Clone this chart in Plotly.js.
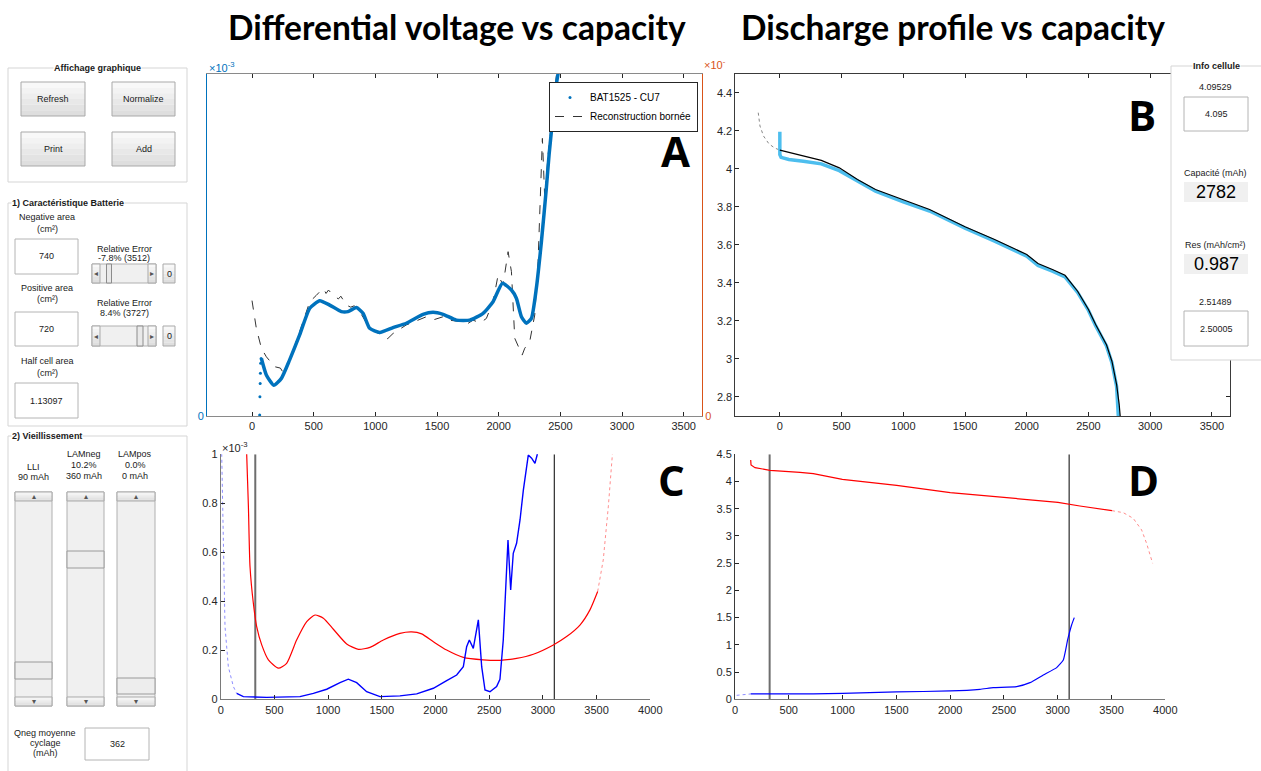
<!DOCTYPE html>
<html>
<head>
<meta charset="utf-8">
<script src="https://cdn.plot.ly/plotly-3.0.1.min.js"></script>
<style>html,body{margin:0;padding:0;background:#fff;}#chart{width:1261px;height:771px;}</style>
</head>
<body>
<div id="chart"></div>
<script>
// ---------------- DATA ----------------
// Panel A : differential voltage (x1e-3) vs capacity (mAh)
const aDotsX = [62, 64, 66, 68, 70, 74];
const aDotsY = [0.003, 0.056, 0.095, 0.125, 0.154, 0.168];
const aBlueX = [76, 116, 176, 238, 305, 386, 468, 549, 630, 724, 778, 846, 900, 954, 1035, 1143, 1251, 1386, 1468, 1549, 1657, 1765, 1873, 1954, 2030, 2103, 2143, 2184, 2224, 2265, 2305, 2346, 2386, 2408, 2435, 2462, 2481, 2500];
const aBlueY = [0.168, 0.12, 0.09, 0.11, 0.164, 0.237, 0.315, 0.337, 0.324, 0.305, 0.305, 0.317, 0.3, 0.256, 0.244, 0.258, 0.271, 0.297, 0.303, 0.297, 0.28, 0.28, 0.3, 0.334, 0.388, 0.368, 0.344, 0.29, 0.271, 0.285, 0.373, 0.509, 0.665, 0.762, 0.86, 0.957, 1.0, 1.05];
const aRecX = [0, 35, 76, 116, 184, 230, 251, 270, 305, 386, 468, 520, 540, 562, 580, 600, 620, 657, 700, 720, 765, 800, 830, 873, 954, 1062, 1100, 1143, 1251, 1414, 1480, 1549, 1600, 1684, 1740, 1792, 1850, 1900, 1954, 1995, 2035, 2076, 2103, 2130, 2170, 2190, 2211, 2251, 2292, 2319, 2354, 2373, 2400, 2440, 2468];
const aRecY = [0.337, 0.256, 0.198, 0.173, 0.144, 0.14, 0.128, 0.142, 0.164, 0.246, 0.334, 0.352, 0.36, 0.368, 0.372, 0.358, 0.368, 0.353, 0.342, 0.35, 0.324, 0.318, 0.322, 0.305, 0.256, 0.232, 0.226, 0.241, 0.266, 0.29, 0.282, 0.29, 0.28, 0.276, 0.268, 0.28, 0.272, 0.285, 0.334, 0.412, 0.383, 0.48, 0.422, 0.227, 0.193, 0.178, 0.198, 0.217, 0.295, 0.451, 0.811, 0.636, 0.762, 0.889, 0.996];
const aTicks = [0, 500, 1000, 1500, 2000, 2500, 3000, 3500];

// Panel B : discharge voltage (V) vs capacity (mAh)
const bExtX = [-175, -161, -132, -88, -44, 0];
const bExtY = [4.295, 4.225, 4.172, 4.131, 4.11, 4.098];
const bMeasX = [0, 0, 10, 73, 190, 336, 482, 629, 775, 1000, 1213, 1500, 1740, 2000, 2091, 2208, 2310, 2412, 2500, 2558, 2646, 2690, 2728, 2742];
const bMeasY = [4.195, 4.075, 4.06, 4.049, 4.04, 4.026, 3.99, 3.934, 3.882, 3.826, 3.778, 3.688, 3.62, 3.54, 3.492, 3.462, 3.432, 3.35, 3.255, 3.175, 3.068, 2.98, 2.855, 2.70];
const bFitX = [0, 190, 336, 482, 629, 775, 1000, 1213, 1500, 1740, 2000, 2091, 2208, 2310, 2412, 2500, 2558, 2646, 2690, 2728, 2749, 2757];
const bFitY = [4.098, 4.067, 4.044, 4.005, 3.944, 3.891, 3.835, 3.786, 3.695, 3.628, 3.549, 3.502, 3.47, 3.44, 3.356, 3.26, 3.181, 3.075, 2.988, 2.865, 2.76, 2.70];
const bYTicks = [2.8, 3, 3.2, 3.4, 3.6, 3.8, 4, 4.2, 4.4];

// Panel C : half-cell differential voltage (x1e-3)
const cRedX = [236, 242, 258, 273, 304, 335, 382, 444, 537, 614, 707, 801, 878, 956, 1049, 1173, 1282, 1390, 1514, 1669, 1778, 1871, 1980, 2104, 2259, 2445, 2600, 2755, 2911, 3097, 3221, 3345, 3438, 3510];
const cRedY = [1.1, 1.0, 0.786, 0.541, 0.392, 0.297, 0.222, 0.161, 0.127, 0.147, 0.242, 0.317, 0.344, 0.331, 0.286, 0.226, 0.204, 0.212, 0.242, 0.269, 0.275, 0.267, 0.235, 0.201, 0.171, 0.161, 0.159, 0.167, 0.184, 0.222, 0.256, 0.303, 0.365, 0.44];
const cRedDotX = [3510, 3562, 3609, 3655, 3665];
const cRedDotY = [0.44, 0.569, 0.786, 1.0, 1.1];
const cBlueDotX = [5, 9, 19, 40, 71, 118, 149];
const cBlueDotY = [1.1, 1.0, 0.65, 0.297, 0.133, 0.052, 0.024];
const cBlueX = [149, 211, 428, 738, 863, 987, 1111, 1188, 1266, 1359, 1483, 1669, 1825, 1980, 2104, 2197, 2259, 2290, 2315, 2352, 2399, 2430, 2461, 2507, 2569, 2600, 2631, 2656, 2675, 2700, 2724, 2755, 2787, 2818, 2864, 2895, 2926, 2948, 2960];
const cBlueY = [0.024, 0.011, 0.008, 0.011, 0.024, 0.041, 0.068, 0.082, 0.068, 0.031, 0.011, 0.014, 0.022, 0.045, 0.076, 0.099, 0.133, 0.215, 0.242, 0.208, 0.324, 0.133, 0.038, 0.031, 0.052, 0.082, 0.242, 0.514, 0.65, 0.446, 0.596, 0.637, 0.732, 0.854, 0.997, 0.984, 0.963, 1.0, 1.05];
const cYTicks = [0, 0.2, 0.4, 0.6, 0.8, 1];

// Panel D : half-cell potentials (V)
const dRedX = [146, 149, 186, 325, 604, 728, 998, 1503, 2001, 2503, 3002, 3206, 3504];
const dRedY = [4.395, 4.304, 4.255, 4.206, 4.169, 4.145, 4.041, 3.93, 3.796, 3.71, 3.618, 3.551, 3.465];
const dRedDotX = [3504, 3609, 3702, 3780, 3826, 3882];
const dRedDotY = [3.465, 3.428, 3.324, 3.11, 2.865, 2.498];
const dBlueDotX = [15, 146];
const dBlueDotY = [0.073, 0.098];
const dBlueX = [146, 728, 998, 1503, 2001, 2277, 2401, 2618, 2742, 2866, 2990, 3052, 3092, 3129, 3154];
const dBlueY = [0.098, 0.098, 0.11, 0.135, 0.153, 0.184, 0.214, 0.233, 0.306, 0.447, 0.582, 0.722, 1.09, 1.365, 1.5];
const cdXTicks = [0, 500, 1000, 1500, 2000, 2500, 3000, 3500, 4000];
const dYTicks = [0, 0.5, 1, 1.5, 2, 2.5, 3, 3.5, 4, 4.5];

// cursor positions (mAh)
const cursorLow = 322;
const cursorHigh = 3106;

// ---------------- HELPERS ----------------
const W = 1261, H = 771;
const px = x => x / W;
const py = y => 1 - y / H;
const TF = {family: 'Liberation Sans, Arial, sans-serif', size: 11, color: '#262626'};
const GF = 'Liberation Sans, Arial, sans-serif';

// ---------------- TRACES ----------------
const traces = [
  // A
  {x: aRecX, y: aRecY, xaxis: 'x', yaxis: 'y', mode: 'lines', name: 'Reconstruction bornée', legendrank: 2,
   line: {color: '#333333', width: 1, dash: 'dash'}},
  {x: aBlueX, y: aBlueY, xaxis: 'x', yaxis: 'y', mode: 'lines', showlegend: false,
   line: {color: '#0072BD', width: 3.5, shape: 'spline', smoothing: 0.5}},
  {x: aDotsX, y: aDotsY, xaxis: 'x', yaxis: 'y', mode: 'markers', name: 'BAT1525 - CU7', legendrank: 1,
   marker: {color: '#0072BD', size: 3}},
  // B
  {x: bExtX, y: bExtY, xaxis: 'x2', yaxis: 'y3', mode: 'lines', showlegend: false,
   line: {color: '#888888', width: 1, dash: 'dot'}},
  {x: bMeasX, y: bMeasY, xaxis: 'x2', yaxis: 'y3', mode: 'lines', showlegend: false,
   line: {color: '#4DBEEE', width: 3.5}},
  {x: bFitX, y: bFitY, xaxis: 'x2', yaxis: 'y3', mode: 'lines', showlegend: false,
   line: {color: '#000000', width: 1.2}},
  // C
  {x: [cursorLow, cursorLow], y: [0, 1], xaxis: 'x3', yaxis: 'y4', mode: 'lines', showlegend: false,
   line: {color: '#6e6e6e', width: 2}},
  {x: [cursorHigh, cursorHigh], y: [0, 1], xaxis: 'x3', yaxis: 'y4', mode: 'lines', showlegend: false,
   line: {color: '#000000', width: 1}},
  {x: cRedX, y: cRedY, xaxis: 'x3', yaxis: 'y4', mode: 'lines', showlegend: false,
   line: {color: '#ff0000', width: 1.2, shape: 'spline', smoothing: 0.6}},
  {x: cRedDotX, y: cRedDotY, xaxis: 'x3', yaxis: 'y4', mode: 'lines', showlegend: false,
   line: {color: 'rgba(255,0,0,0.45)', width: 1, dash: 'dot'}},
  {x: cBlueDotX, y: cBlueDotY, xaxis: 'x3', yaxis: 'y4', mode: 'lines', showlegend: false,
   line: {color: 'rgba(0,0,255,0.45)', width: 1, dash: 'dot'}},
  {x: cBlueX, y: cBlueY, xaxis: 'x3', yaxis: 'y4', mode: 'lines', showlegend: false,
   line: {color: '#0000ff', width: 1.4}},
  // D
  {x: [cursorLow, cursorLow], y: [0, 4.5], xaxis: 'x4', yaxis: 'y5', mode: 'lines', showlegend: false,
   line: {color: '#6e6e6e', width: 2}},
  {x: [cursorHigh, cursorHigh], y: [0, 4.5], xaxis: 'x4', yaxis: 'y5', mode: 'lines', showlegend: false,
   line: {color: '#000000', width: 1}},
  {x: dRedX, y: dRedY, xaxis: 'x4', yaxis: 'y5', mode: 'lines', showlegend: false,
   line: {color: '#ff0000', width: 1.2}},
  {x: dRedDotX, y: dRedDotY, xaxis: 'x4', yaxis: 'y5', mode: 'lines', showlegend: false,
   line: {color: 'rgba(255,0,0,0.45)', width: 1, dash: 'dot'}},
  {x: dBlueDotX, y: dBlueDotY, xaxis: 'x4', yaxis: 'y5', mode: 'lines', showlegend: false,
   line: {color: 'rgba(0,0,255,0.45)', width: 1, dash: 'dot'}},
  {x: dBlueX, y: dBlueY, xaxis: 'x4', yaxis: 'y5', mode: 'lines', showlegend: false,
   line: {color: '#0000ff', width: 1.2, shape: 'spline', smoothing: 0.4}}
];

// ---------------- GUI SHAPES & TEXT ----------------
const shapes = [];
const ann = [];
function rect(x0, y0, x1, y1, fill, line, lw) {
  shapes.push({type: 'rect', xref: 'paper', yref: 'paper', layer: 'above',
    x0: px(x0), x1: px(x1), y0: py(y1), y1: py(y0),
    fillcolor: fill || 'rgba(0,0,0,0)', line: {color: line || 'rgba(0,0,0,0)', width: lw === undefined ? 1 : lw}});
}
function txt(x, y, t, o) {
  o = o || {};
  ann.push({xref: 'paper', yref: 'paper', x: px(x), y: py(y), text: t, showarrow: false,
    xanchor: o.xa || 'center', yanchor: 'middle',
    font: {family: o.family || GF, size: o.size || 9, color: o.color || '#1a1a1a', weight: o.weight || 400},
    bgcolor: o.bg || 'rgba(0,0,0,0)', borderpad: 0});
}
function button(x0, y0, x1, y1, label) {
  const n = 6, h = (y1 - y0) / n;
  const cols = ['#f8f8f8', '#f3f3f3', '#eeeeee', '#e8e8e8', '#e3e3e3', '#dedede'];
  for (let i = 0; i < n; i++) rect(x0, y0 + i * h, x1, y0 + (i + 1) * h, cols[i], null, 0);
  rect(x0, y0, x1, y1, null, '#a9a9a9', 1);
  if (label) txt((x0 + x1) / 2, (y0 + y1) / 2, label);
}
function editBox(x0, y0, x1, y1, label, size) {
  rect(x0, y0, x1, y1, '#ffffff', '#b4b4b4', 1);
  txt((x0 + x1) / 2, (y0 + y1) / 2, label, {size: size || 9});
}
function hSlider(x0, y0, x1, y1, t0, t1) {
  rect(x0, y0, x1, y1, '#f0f0f0', '#b0b0b0', 1);
  button(x0, y0, x0 + 8, y1, null);
  button(x1 - 8, y0, x1, y1, null);
  txt(x0 + 4, (y0 + y1) / 2, '◂', {family: 'DejaVu Sans', size: 8, color: '#555'});
  txt(x1 - 4, (y0 + y1) / 2, '▸', {family: 'DejaVu Sans', size: 8, color: '#555'});
  rect(t0, y0, t1, y1, '#e9e9e9', '#8c8c8c', 1);
}
function vSlider(x0, y0, x1, y1, t0, t1) {
  rect(x0, y0, x1, y1, '#f0f0f0', '#b0b0b0', 1);
  button(x0, y0, x1, y0 + 9, null);
  button(x0, y1 - 9, x1, y1, null);
  txt((x0 + x1) / 2, y0 + 4.5, '▴', {family: 'DejaVu Sans', size: 8, color: '#555'});
  txt((x0 + x1) / 2, y1 - 4.5, '▾', {family: 'DejaVu Sans', size: 8, color: '#555'});
  rect(x0, t0, x1, t1, '#ededed', '#9a9a9a', 1);
}

// Group 1: Affichage graphique
rect(8, 68, 187, 182, null, '#d5d5d5', 1);
txt(97, 68, 'Affichage graphique', {weight: 700, bg: '#ffffff'});
button(21, 82, 85, 116, 'Refresh');
button(112, 82, 175, 116, 'Normalize');
button(21, 132, 85, 166, 'Print');
button(112, 132, 175, 166, 'Add');

// Group 2: Caractéristique Batterie
rect(8, 203, 187, 426, null, '#d5d5d5', 1);
txt(11, 203, '1) Caractéristique Batterie', {xa: 'left', weight: 700, bg: '#ffffff'});
txt(47, 217, 'Negative area');
txt(47, 229, '(cm²)');
editBox(15, 239, 78, 274, '740');
txt(124, 249, 'Relative Error');
txt(124, 258, '-7.8% (3512)');
hSlider(92, 264, 156, 283, 106.5, 111.5);
button(163, 264, 175, 283, '0');
txt(47, 288, 'Positive area');
txt(47, 299, '(cm²)');
editBox(15, 312, 78, 346, '720');
txt(124, 303, 'Relative Error');
txt(124, 313, '8.4% (3727)');
hSlider(92, 326, 156, 346, 137, 143);
button(163, 326, 175, 346, '0');
txt(47, 361, 'Half cell area');
txt(47, 373, '(cm²)');
editBox(15, 383, 78, 418, '1.13097');

// Group 3: Vieillissement
rect(8, 436, 187, 780, null, '#d5d5d5', 1);
txt(11, 436, '2) Vieillissement', {xa: 'left', weight: 700, bg: '#ffffff'});
txt(33, 467, 'LLI');
txt(33, 477, '90 mAh');
txt(84, 454, 'LAMneg');
txt(84, 465, '10.2%');
txt(84, 476, '360 mAh');
txt(135, 454, 'LAMpos');
txt(135, 465, '0.0%');
txt(135, 476, '0 mAh');
vSlider(15, 492, 52, 706, 662, 679);
vSlider(67, 492, 104, 706, 551, 568);
vSlider(117, 492, 155, 706, 678, 694);
txt(45, 733, 'Qneg moyenne');
txt(45, 743, 'cyclage');
txt(45, 753, '(mAh)');
editBox(85, 728, 149, 760, '362');

// Info cellule
rect(1171, 66, 1263, 360, '#ffffff', '#d5d5d5', 1);
txt(1216, 66, 'Info cellule', {weight: 700, bg: '#ffffff'});
txt(1215, 87, '4.09529');
editBox(1184, 97, 1248, 131, '4.095');
txt(1215, 173, 'Capacité (mAh)');
rect(1184, 182, 1248, 202, '#f0f0f0', null, 0);
txt(1216, 192, '2782', {size: 18, color: '#000'});
txt(1215, 245, 'Res (mAh/cm²)');
rect(1184, 254, 1248, 274, '#f0f0f0', null, 0);
txt(1216, 264, '0.987', {size: 18, color: '#000'});
txt(1215, 302, '2.51489');
editBox(1184, 311, 1248, 346, '2.50005');

// Titles and panel letters
txt(457, 27, 'Differential voltage vs capacity', {family: 'Lato, sans-serif', size: 33.5, weight: 700, color: '#000'});
txt(953, 27, 'Discharge profile vs capacity', {family: 'Lato, sans-serif', size: 33.5, weight: 700, color: '#000'});
txt(675, 151, 'A', {family: 'Open Sans, sans-serif', size: 42, weight: 700, color: '#000'});
txt(1142, 114, 'B', {family: 'Open Sans, sans-serif', size: 42, weight: 700, color: '#000'});
txt(671, 479, 'C', {family: 'Open Sans, sans-serif', size: 42, weight: 700, color: '#000'});
txt(1143, 479, 'D', {family: 'Open Sans, sans-serif', size: 42, weight: 700, color: '#000'});

// exponent labels
txt(208, 67, '×10<sup>-3</sup>', {xa: 'left', size: 11, color: '#0072BD'});
txt(703, 64, '×10<sup>-</sup>', {xa: 'left', size: 11, color: '#D95319'});
txt(221, 447, '×10<sup>-3</sup>', {xa: 'left', size: 11, color: '#262626'});

// ---------------- LAYOUT ----------------
const baseX = {showgrid: false, zeroline: false, showline: true, ticks: 'inside', ticklen: 4,
  tickcolor: '#262626', tickfont: TF, linewidth: 1};
const layout = {
  width: W, height: H, margin: {l: 0, r: 0, t: 0, b: 0},
  paper_bgcolor: '#ffffff', plot_bgcolor: 'rgba(0,0,0,0)',
  showlegend: true,
  legend: {x: px(549), y: py(82), xanchor: 'left', yanchor: 'top', bgcolor: '#ffffff',
    bordercolor: '#262626', borderwidth: 1, font: {family: GF, size: 10, color: '#000'},
    tracegroupgap: 0, itemwidth: 30},
  xaxis: Object.assign({}, baseX, {domain: [px(207), px(702)], range: [-365, 3648], anchor: 'y',
    tickvals: aTicks, mirror: 'ticks', linecolor: '#8a8a8a'}),
  yaxis: {domain: [py(416), py(73.7)], range: [0, 1], anchor: 'x', showgrid: false, zeroline: false,
    showline: true, linecolor: '#0072BD', tickvals: [0], ticks: '', tickfont: Object.assign({}, TF, {color: '#0072BD'})},
  yaxis2: {overlaying: 'y', side: 'right', range: [0, 1], anchor: 'x', showgrid: false, zeroline: false,
    showline: true, linecolor: '#D95319', tickvals: [0], ticks: '', tickfont: Object.assign({}, TF, {color: '#D95319'})},
  xaxis2: Object.assign({}, baseX, {domain: [px(735.4), px(1230.3)], range: [-360, 3649], anchor: 'y3',
    tickvals: aTicks, mirror: 'ticks', linecolor: '#3a3a3a'}),
  yaxis3: Object.assign({}, baseX, {domain: [py(416), py(73.7)], range: [2.7, 4.5], anchor: 'x2',
    tickvals: bYTicks, mirror: 'ticks', linecolor: '#3a3a3a'}),
  xaxis3: Object.assign({}, baseX, {domain: [px(220.7), px(650.3)], range: [0, 4000], anchor: 'y4',
    tickvals: cdXTicks, linecolor: '#7a7a7a'}),
  yaxis4: Object.assign({}, baseX, {domain: [py(699.3), py(454.3)], range: [0, 1], anchor: 'x3',
    tickvals: cYTicks, linecolor: '#7a7a7a'}),
  xaxis4: Object.assign({}, baseX, {domain: [px(735), px(1165.3)], range: [0, 4000], anchor: 'y5',
    tickvals: cdXTicks, linecolor: '#7a7a7a'}),
  yaxis5: Object.assign({}, baseX, {domain: [py(699.3), py(454.3)], range: [0, 4.5], anchor: 'x4',
    tickvals: dYTicks, linecolor: '#3a3a3a'}),
  shapes: shapes,
  annotations: ann
};

// a transparent helper trace so the orange right-hand axis of panel A is drawn
traces.push({x: [0], y: [0], xaxis: 'x', yaxis: 'y2', mode: 'markers', showlegend: false,
  marker: {size: 1, color: 'rgba(0,0,0,0)'}, hoverinfo: 'skip'});

Plotly.newPlot('chart', traces, layout, {displayModeBar: false, staticPlot: true});
</script>
</body>
</html>
